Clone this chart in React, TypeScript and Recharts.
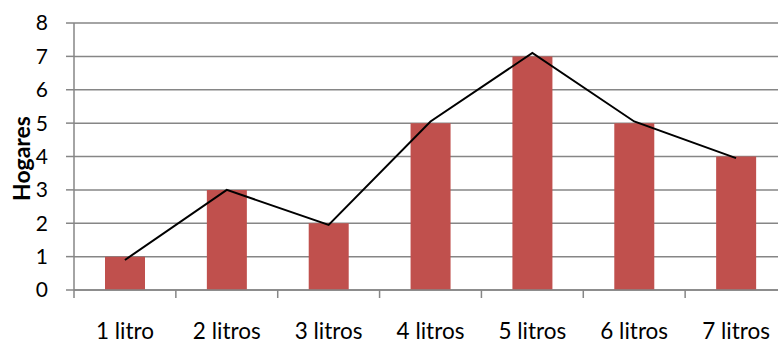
import { Bar, CartesianGrid, ComposedChart, Label, Line, XAxis, YAxis } from 'recharts';

const categories = ['1 litro', '2 litros', '3 litros', '4 litros', '5 litros', '6 litros', '7 litros'];
const hogares = [1, 3, 2, 5, 7, 5, 4];
// frequency polygon drawn over the bars
const polygon = [0.9, 3, 1.95, 5.05, 7.1, 5.05, 3.95];
const yTicks = [0, 1, 2, 3, 4, 5, 6, 7, 8];

const data = categories.map((name, i) => ({ name, hogares: hogares[i], polygon: polygon[i] }));

const FONT = 'Lato, "Open Sans", sans-serif';
const AXIS = '#868686';
const CHART_W = 787;
const LEFT = 74;

// Excel-style category ticks sit between the bars, labels stay centred
function CategoryTick(props: any) {
  const { x, y, payload } = props;
  const half = (CHART_W - LEFT) / categories.length / 2;
  return (
    <g>
      <line x1={x - half} x2={x - half} y1={y - 8} y2={y} stroke={AXIS} strokeWidth={1.5} />
      <text x={x} y={y + 41} textAnchor="middle" fontSize={22.5} fontFamily={FONT} fill="#000">
        {payload.value}
      </text>
    </g>
  );
}

export default function App() {
  return (
    <div style={{ position: 'fixed', left: 0, top: 0, width: 778, height: 343, overflow: 'hidden', background: '#fff' }}>
      <ComposedChart width={CHART_W} height={343} data={data} margin={{ top: 23, right: 0, bottom: 0, left: 0 }}>
        <CartesianGrid vertical={false} stroke={AXIS} strokeWidth={1.5} />
        <XAxis
          dataKey="name"
          height={53}
          axisLine={{ stroke: AXIS, strokeWidth: 1.5 }}
          tickLine={false}
          tick={<CategoryTick />}
          interval={0}
        />
        <YAxis
          width={LEFT}
          domain={[0, 8]}
          ticks={yTicks}
          interval={0}
          axisLine={{ stroke: AXIS, strokeWidth: 1.5 }}
          tickLine={{ stroke: AXIS, strokeWidth: 1.5 }}
          tickSize={8}
          tickMargin={18}
          tick={{ fontSize: 21, fontFamily: FONT, fill: '#000' }}
        >
          <Label
            value="Hogares"
            angle={-90}
            position="center"
            dx={-15}
            dy={2}
            style={{ fontSize: 23, fontWeight: 'bold', fontFamily: FONT, fill: '#000', textAnchor: 'middle' }}
          />
        </YAxis>
        <Bar dataKey="hogares" fill="#C0504D" barSize={40} isAnimationActive={false} />
        <Line
          dataKey="polygon"
          type="linear"
          stroke="#000"
          strokeWidth={2}
          dot={false}
          activeDot={false}
          isAnimationActive={false}
        />
      </ComposedChart>
    </div>
  );
}
